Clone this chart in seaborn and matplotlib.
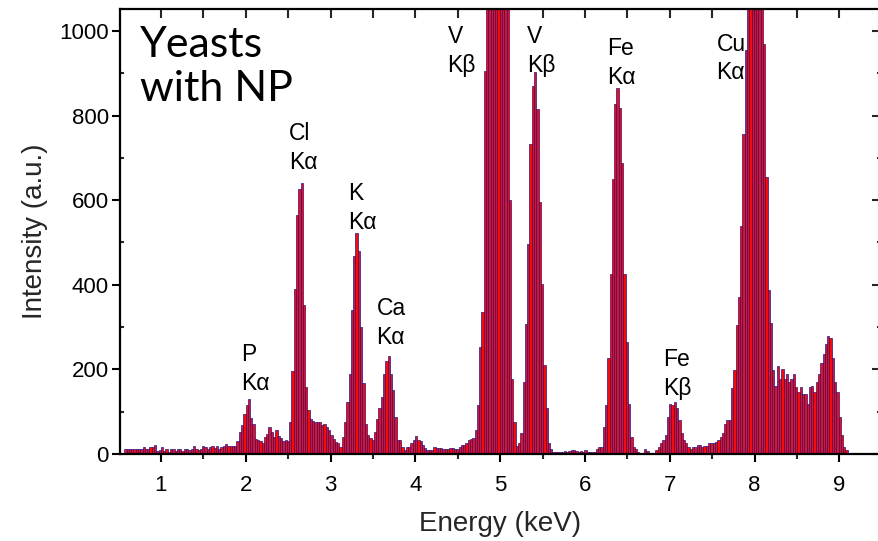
import numpy as np
import pandas as pd
import matplotlib
matplotlib.use("Agg")
import matplotlib.pyplot as plt
import seaborn as sns
from matplotlib.ticker import MultipleLocator, NullFormatter

# EDX spectrum: channel grid (keV) and counts per channel
E_START = 0.58
E_STEP = 0.027
counts = [
    12, 12, 11, 12, 12, 11, 12, 12, 17, 13,
    12, 17, 17, 22, 7, 10, 17, 6, 12, 4,
    12, 12, 6, 12, 11, 8, 13, 13, 10, 12,
    18, 13, 9, 12, 18, 17, 13, 16, 18, 14,
    18, 13, 16, 19, 24, 18, 18, 18, 18, 30,
    53, 68, 94, 117, 129, 86, 70, 35, 33, 31,
    27, 41, 48, 63, 53, 40, 57, 43, 37, 31,
    33, 31, 75, 196, 389, 564, 627, 641, 353, 159,
    104, 82, 78, 76, 75, 75, 68, 71, 64, 57,
    45, 35, 29, 25, 17, 41, 76, 123, 190, 340,
    467, 522, 481, 300, 167, 71, 45, 37, 33, 53,
    82, 109, 135, 190, 219, 231, 190, 152, 88, 33,
    33, 17, 9, 16, 16, 25, 33, 42, 33, 31,
    21, 15, 9, 9, 9, 17, 15, 15, 15, 11,
    11, 11, 15, 15, 11, 11, 17, 21, 21, 27,
    33, 35, 37, 57, 116, 253, 336, 906, 1450, 2100,
    2700, 3100, 3300, 3200, 2800, 2200, 1600, 1150, 600, 178,
    76, 20, 25, 50, 170, 308, 497, 733, 870, 902,
    815, 595, 402, 210, 108, 25, 13, 5, 4, 5,
    4, 5, 6, 5, 7, 9, 9, 6, 5, 7,
    5, 9, 5, 4, 5, 5, 13, 16, 17, 64,
    116, 226, 426, 650, 827, 866, 819, 689, 426, 265,
    119, 41, 17, 11, 5, 3, 3, 11, 8, 3,
    3, 3, 10, 17, 25, 33, 45, 88, 119, 116,
    123, 108, 80, 49, 33, 25, 16, 11, 17, 16,
    21, 21, 17, 19, 19, 25, 25, 25, 29, 33,
    40, 50, 70, 80, 80, 155, 198, 304, 371, 540,
    756, 955, 1500, 2200, 2700, 2900, 2700, 2100, 1400, 969,
    654, 388, 310, 198, 160, 209, 178, 202, 178, 190,
    171, 178, 190, 159, 147, 159, 142, 142, 118, 159,
    160, 147, 171, 190, 214, 237, 261, 279, 275, 226,
    171, 147, 88, 45, 17, 9, 3, 2,
]
energy = np.round(E_START + E_STEP * np.arange(len(counts)), 4)
spectrum = pd.DataFrame({"energy": energy, "counts": counts})

# Line identifications
peak_elements = ["P", "Cl", "K", "Ca", "V", "V", "Fe", "Fe", "Cu"]
peak_lines = ["Kα", "Kα", "Kα", "Kα", "Kβ", "Kβ", "Kα", "Kβ", "Kα"]
# label anchors (keV, counts): left / top of each label
label_x = [1.94, 2.51, 3.21, 3.54, 4.38, 5.32, 6.26, 6.92, 7.55]
label_y = [262, 784, 642, 371, 1013, 1013, 985, 250, 996]

sns.set_theme(style="ticks")
plt.rcParams["font.family"] = ["Liberation Sans", "DejaVu Sans"]

fig = plt.figure(figsize=(8.79, 5.41), dpi=100)
ax = fig.add_axes([120 / 879, 1 - 454 / 541, (880 - 120) / 879, (454 - 9) / 541])

lo = float(energy[0] - E_STEP / 2)
hi = float(energy[-1] + E_STEP / 2)
sns.histplot(data=spectrum, x="energy", weights="counts", ax=ax,
             binwidth=E_STEP, binrange=(lo, hi),
             color="#f20c0c", edgecolor="#24138a", linewidth=0.5,
             alpha=1, element="bars", fill=True)

ax.set_xlim(0.5165, 9.479)
ax.set_ylim(0, 1052)
ax.xaxis.set_major_locator(MultipleLocator(1))
ax.xaxis.set_minor_locator(MultipleLocator(0.5))
ax.yaxis.set_major_locator(MultipleLocator(200))
ax.yaxis.set_minor_locator(MultipleLocator(100))
ax.tick_params(which="major", direction="out", length=6, width=1.5,
               labelsize=16, colors="black")
ax.tick_params(axis="x", which="major", pad=9)
ax.tick_params(axis="y", which="major", pad=2)
ax.tick_params(axis="x", which="minor", direction="out", length=3.5, width=1.5)
ax.tick_params(axis="y", which="minor", direction="in", length=3, width=1.5)

for s in ax.spines.values():
    s.set_linewidth(1.6)
    s.set_color("black")

# mirrored ticks on the top and right frame
top = ax.secondary_xaxis("top")
top.xaxis.set_major_locator(MultipleLocator(1))
top.xaxis.set_minor_locator(MultipleLocator(0.5))
top.xaxis.set_major_formatter(NullFormatter())
top.tick_params(which="both", direction="in", length=6.5, width=1.5)
right = ax.secondary_yaxis("right")
right.yaxis.set_major_locator(MultipleLocator(200))
right.yaxis.set_minor_locator(MultipleLocator(100))
right.yaxis.set_major_formatter(NullFormatter())
right.tick_params(which="major", direction="in", length=5.5, width=1.5)
right.tick_params(which="minor", direction="in", length=2.5, width=1.5)

ax.set_xlabel("Energy (keV)", fontsize=20, labelpad=11)
ax.set_ylabel("Intensity (a.u.)", fontsize=20, labelpad=8)

for el, ln, x, y in zip(peak_elements, peak_lines, label_x, label_y):
    ax.text(x, y, f"{el}\n{ln}", ha="left", va="top", fontsize=16.5,
            linespacing=1.32, color="black")

ax.text(0.026, 0.962, "Yeasts\nwith NP", transform=ax.transAxes,
        ha="left", va="top", fontsize=31, family=["Lato", "DejaVu Sans"],
        linespacing=1.2, color="black")

fig.savefig("out.png", dpi=100)
